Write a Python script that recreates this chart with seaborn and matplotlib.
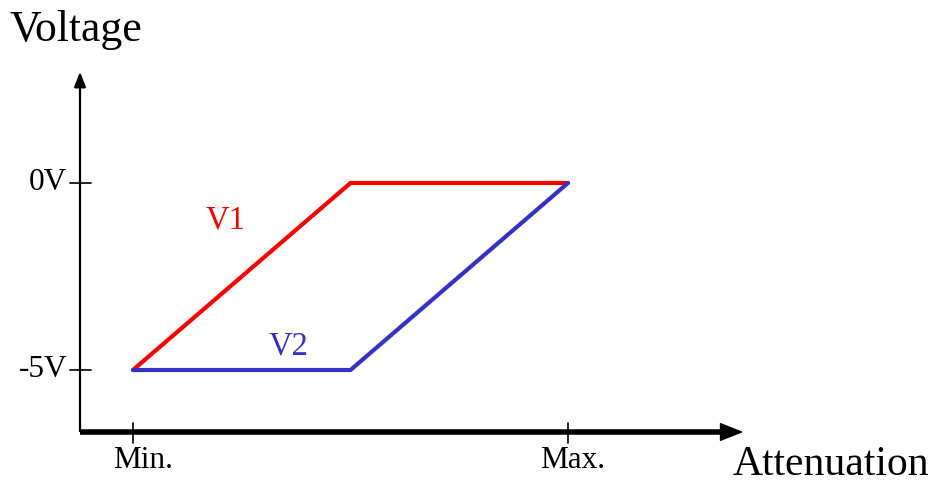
import pandas as pd
import seaborn as sns
import matplotlib.pyplot as plt

sns.set_style("white")
plt.rcParams['font.family'] = ['Liberation Serif', 'DejaVu Serif']
plt.rcParams['text.color'] = 'black'

# attenuation positions (Min. = 0, Max. = 1) and voltages
atten = [0.0, 0.5, 1.0]
v1 = [-5, 0, 0]
v2 = [-5, -5, 0]
x_ticks = [0.0, 1.0]
x_labels = ["Min.", "Max."]
y_ticks = [0, -5]
y_labels = ["0V", "-5V"]

W, H = 936, 483
# pixel anchors of the data frame
px_min, px_max = 133, 568
py_0, py_m5 = 183, 370
sx = (px_max - px_min) / 1.0
sy = (py_m5 - py_0) / 5.0


def dx(px):
    return (px - px_min) / sx


def dy(py):
    return -(py - py_0) / sy


df = pd.DataFrame({
    "Attenuation": atten + atten,
    "Voltage": v1 + v2,
    "series": ["V1"] * 3 + ["V2"] * 3,
})

fig = plt.figure(figsize=(W / 100, H / 100), dpi=100)
ax = fig.add_axes([0, 0, 1, 1])
palette = {"V1": "#ff0000", "V2": "#3333cc"}
sns.lineplot(data=df, x="Attenuation", y="Voltage", hue="series", palette=palette,
             estimator=None, sort=False, linewidth=3.0, legend=False, ax=ax, zorder=3)
ax.set_xlim(dx(0), dx(W))
ax.set_ylim(dy(H), dy(0))
ax.axis("off")

# axes with arrows
ax_x0 = dx(80)
ax_y0 = dy(432)
ax.plot([ax_x0, ax_x0], [ax_y0, dy(80)], color="black", lw=1.6, solid_capstyle="butt")
ax.annotate("", xy=(ax_x0, dy(69)), xytext=(ax_x0, dy(82)),
            arrowprops=dict(arrowstyle="-|>,head_length=0.9,head_width=0.35", color="black", lw=1.6))
ax.plot([ax_x0, dx(725)], [ax_y0, ax_y0], color="black", lw=4, solid_capstyle="butt")
ax.annotate("", xy=(dx(746), ax_y0), xytext=(dx(722), ax_y0),
            arrowprops=dict(arrowstyle="-|>,head_length=1.5,head_width=0.6", color="black", lw=1))

# ticks
for t, lab in zip(y_ticks, y_labels):
    ax.plot([dx(70), dx(91)], [t, t], color="black", lw=1.2)
    ax.text(dx(67), t, lab, ha="right", va="center", fontsize=22.5)
label_shift = [dx(143) - dx(133), dx(573) - dx(568)]
for t, lab, s in zip(x_ticks, x_labels, label_shift):
    ax.plot([t, t], [dy(423), dy(443)], color="black", lw=1.2)
    ax.text(t + s, dy(446), lab, ha="center", va="top", fontsize=22.5)

ax.text(dx(226), dy(220), "V1", color="#ff0000", ha="center", va="center", fontsize=23.5)
ax.text(dx(289), dy(346), "V2", color="#3333cc", ha="center", va="center", fontsize=23.5)
ax.text(dx(9), dy(30), "Voltage", ha="left", va="center", fontsize=31.5)
ax.text(dx(929), dy(465), "Attenuation", ha="right", va="center", fontsize=30)

fig.savefig("out.png", dpi=100)
